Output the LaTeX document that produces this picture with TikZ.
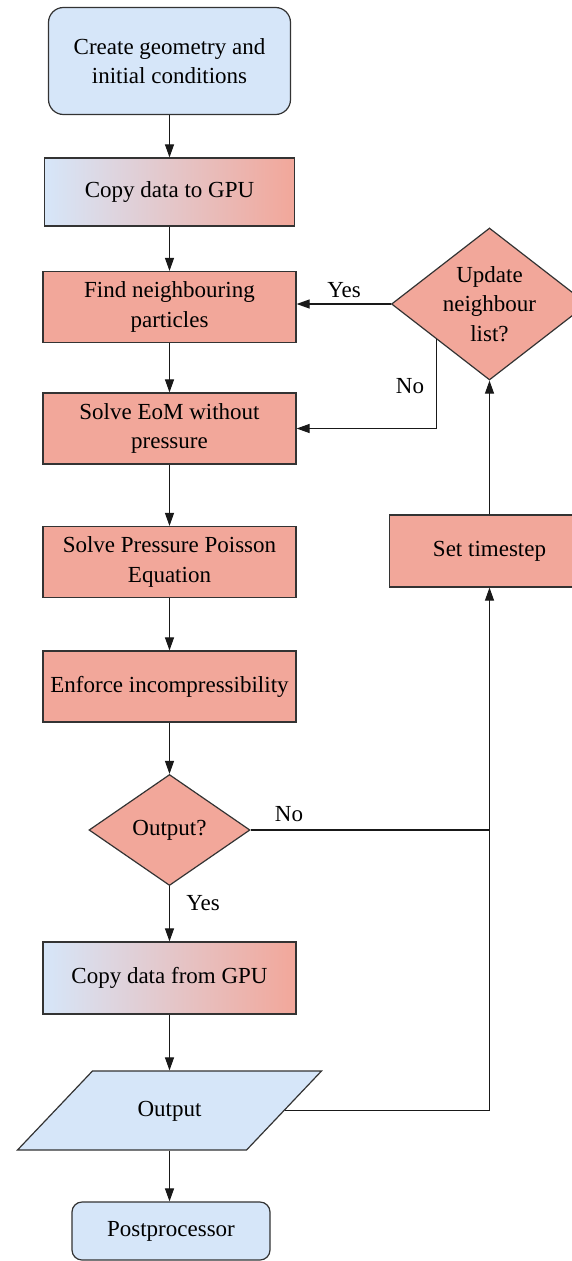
\documentclass[tikz,border=0pt]{standalone}
\usepackage{fontspec}
\setmainfont{Liberation Serif}
\usetikzlibrary{shapes.geometric,arrows.meta,calc}
\definecolor{lb}{RGB}{214,230,249}
\definecolor{sal}{RGB}{242,167,154}
\definecolor{edge}{RGB}{51,51,51}

\begin{document}
\begin{tikzpicture}
  [x=1pt, y=-1pt, font=\fontsize{23}{29.5}\selectfont,
   box/.style={rectangle, draw=edge, line width=1.2pt, fill=sal, align=center,
     minimum width=253pt, minimum height=71pt, inner sep=0pt},
   gbox/.style={box, left color=lb, right color=sal},
   term/.style={box, fill=lb, rounded corners=15pt},
   decision/.style={diamond, draw=edge, line width=1.2pt, fill=sal, inner sep=0pt},
   io/.style={trapezium, trapezium left angle=46.5, trapezium right angle=133.5,
     trapezium stretches body, draw=edge, line width=1.2pt, fill=lb,
     text height=17pt, text depth=6pt, inner xsep=0pt, inner ysep=28pt},
   arrow/.style={draw=black!90, line width=1.1pt, -{Triangle[length=13pt,width=9pt]}},
   line/.style={draw=black!90, line width=1.1pt}]
    \useasboundingbox (0,0) rectangle (572,1261);
    \clip (0,0) rectangle (572,1261);
    % left column
    \node[term, minimum width=242pt, minimum height=107pt]
      (create) at (169.5,61) {Create geometry and\\initial conditions};
    \node[gbox, minimum width=250pt, minimum height=68pt]
      (copyto) at (169.5,192) {Copy data to GPU};
    \foreach \name/\y/\txt in {find/307/{Find neighbouring\\particles},
                  solve/428.5/{Solve EoM without\\pressure},
                  press/562/{Solve Pressure Poisson\\Equation},
                  enf/686.5/{Enforce incompressibility}}{
      \node[box] (\name) at (169.5,\y) {\txt}; }
    \node[decision, minimum width=161pt, minimum height=111pt,
      label={center:Output?}] (outq) at (169.5,830) {};
    \node[gbox, minimum height=72pt] (copyfrom) at (169.5,978) {Copy data from GPU};
    \node[io, minimum width=304pt] (out) at (169.5,1110.5) {Output};
    \node[term, minimum width=198pt, minimum height=58pt, rounded corners=10pt]
      (post) at (171,1231) {Postprocessor};
    % right column
    \node[decision, minimum width=196pt, minimum height=152pt,
      label={[align=center]center:{Update\\neighbour\\list?}}] (upd) at (489.5,304) {};
    \node[box, minimum width=200pt, minimum height=72pt] (tstep) at (489.5,551) {Set timestep};
    \coordinate (nobend) at ($(upd.west)!0.46!(upd.south)$);
    % connectors
    \foreach \from/\to in {create/copyto,copyto/find,find/solve,solve/press,
                  press/enf,enf/outq,outq/copyfrom,copyfrom/out,out/post}{
      \draw[arrow] (\from.south) -- (\from.south |- \to.north);}
    \draw[arrow] (upd.west) -- (upd.west -| find.east);
    \draw[arrow] (nobend) |- (solve.east);
    \draw[arrow] (tstep.north) -- (upd.south);
    \draw[arrow] (outq.east) -| (tstep.south);
    \draw[line] (out.east) -| (outq.east -| tstep.south);
    % labels
    \node (lyes1) at (344,290) {Yes};
    \node (lno1) at (410,386) {No};
    \node (lno2) at (289,814) {No};
    \node (lyes2) at (203,903) {Yes};
\end{tikzpicture}
\end{document}
